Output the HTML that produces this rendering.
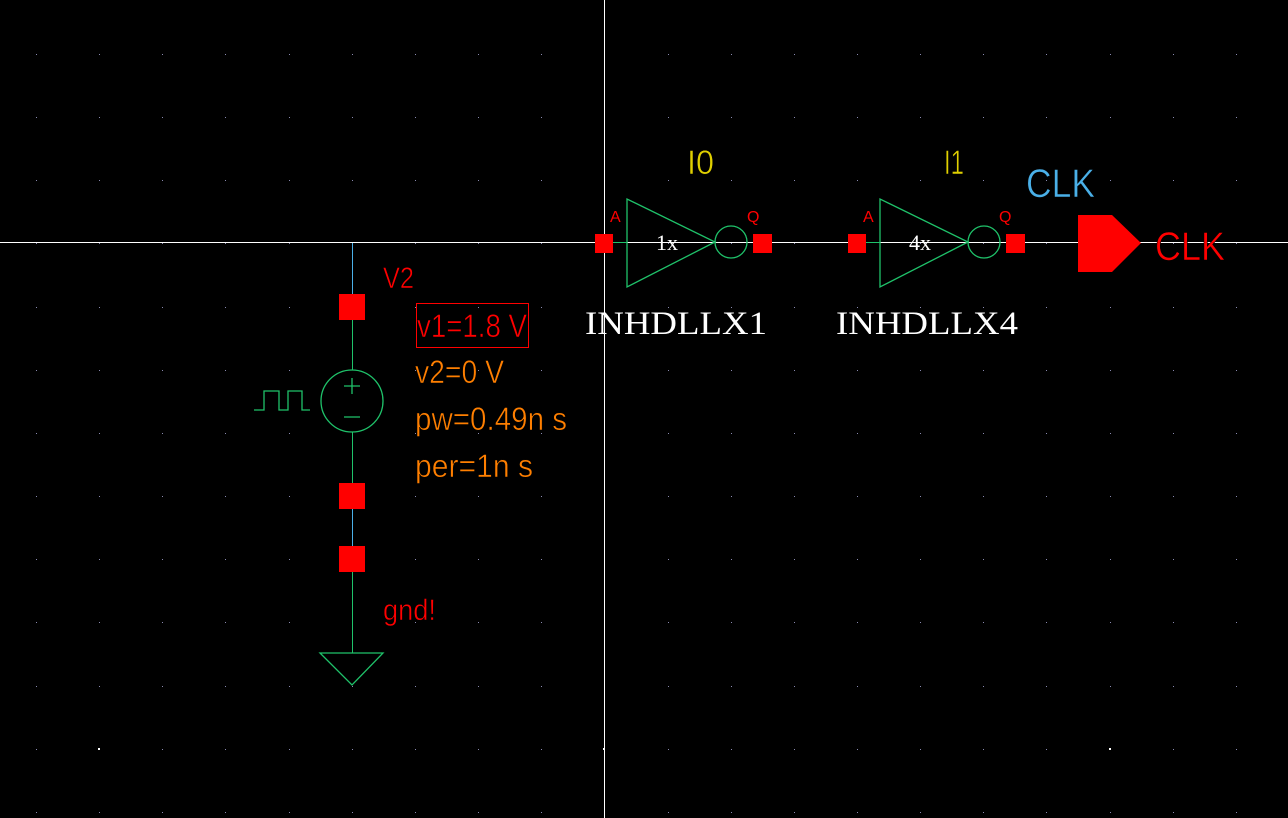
<!DOCTYPE html>
<html><head><meta charset="utf-8"><style>
html,body{margin:0;padding:0;background:#000;width:1288px;height:818px;overflow:hidden}
svg{display:block}
text{font-family:"Liberation Sans",sans-serif}
.thin{stroke:#000;stroke-width:0.6;paint-order:normal}
</style></head><body>
<svg id="s" width="1288" height="818" viewBox="0 0 1288 818">
<g id="grid"></g>
<!-- wires -->
<line x1="352" y1="242.5" x2="595" y2="242.5" stroke="#4ab0e8" stroke-width="1"/>
<line x1="772" y1="242.5" x2="848" y2="242.5" stroke="#4ab0e8" stroke-width="1"/>
<line x1="1024" y1="242.5" x2="1078" y2="242.5" stroke="#4ab0e8" stroke-width="1"/>
<line x1="352.5" y1="242" x2="352.5" y2="297" stroke="#4ab0e8"/>
<line x1="352.5" y1="297" x2="352.5" y2="496" stroke="#1fc26a"/>
<line x1="352.5" y1="496" x2="352.5" y2="559" stroke="#4ab0e8"/>
<line x1="352.5" y1="559" x2="352.5" y2="653" stroke="#1fc26a"/>
<!-- crosshair -->
<line x1="0" y1="242.5" x2="1288" y2="242.5" stroke="#fff" stroke-width="1"/>
<line x1="604.5" y1="0" x2="604.5" y2="818" stroke="#fff" stroke-width="1"/>
<!-- source -->
<rect x="339" y="294" width="26" height="26" fill="#f00"/>
<rect x="339" y="483" width="26" height="26" fill="#f00"/>
<rect x="339" y="546" width="26" height="26" fill="#f00"/>
<circle cx="352" cy="401" r="31" fill="#000" stroke="#1fc26a" stroke-width="1.3"/>
<path d="M344 386H360M352 378V394M344 417H360" stroke="#1fc26a" stroke-width="1.3" fill="none"/>
<path d="M254 410H264V391H279V410H288V391H302V410H310" stroke="#1fc26a" stroke-width="1.3" fill="none"/>
<path d="M320 653H383L352 685Z" fill="none" stroke="#1fc26a" stroke-width="1.3"/>
<text class="thin" x="383" y="288" fill="#f00" font-size="30" textLength="31" lengthAdjust="spacingAndGlyphs">V2</text>
<rect x="416.5" y="303.5" width="112" height="44" fill="none" stroke="#f00"/>
<text class="thin" x="417" y="337" fill="#f00" font-size="32" textLength="110" lengthAdjust="spacingAndGlyphs">v1=1.8 V</text>
<text class="thin" x="415" y="383" fill="#ff7f00" font-size="32" textLength="89" lengthAdjust="spacingAndGlyphs">v2=0 V</text>
<text class="thin" x="415" y="430" fill="#ff7f00" font-size="32" textLength="152" lengthAdjust="spacingAndGlyphs">pw=0.49n s</text>
<text class="thin" x="415" y="477" fill="#ff7f00" font-size="32" textLength="118" lengthAdjust="spacingAndGlyphs">per=1n s</text>
<text class="thin" x="383" y="620" fill="#f00" font-size="30" textLength="53" lengthAdjust="spacingAndGlyphs">gnd!</text>
<!-- inverter I0 -->
<g>
<line x1="613" y1="242.5" x2="627" y2="242.5" stroke="#1fc26a"/>
<path d="M627 199V287L715 242Z" fill="none" stroke="#1fc26a" stroke-width="1.3"/>
<circle cx="731" cy="242" r="16" fill="none" stroke="#1fc26a" stroke-width="1.3"/>
</g>
<rect x="595" y="234" width="18" height="19" fill="#f00"/>
<rect x="753" y="234" width="19" height="19" fill="#f00"/>
<text x="610" y="222" fill="#f00" font-size="16">A</text>
<text x="747" y="222" fill="#f00" font-size="16">Q</text>
<text x="656" y="250" fill="#fff" font-size="22" style="font-family:'Liberation Serif',serif">1x</text>
<text class="thin" x="687" y="174" fill="#e0d000" font-size="34" textLength="27" lengthAdjust="spacingAndGlyphs">I0</text>
<text x="585" y="334" fill="#fff" font-size="33" style="font-family:'Liberation Serif',serif" textLength="182" lengthAdjust="spacingAndGlyphs">INHDLLX1</text>
<!-- inverter I1 -->
<g>
<line x1="866" y1="242.5" x2="880" y2="242.5" stroke="#1fc26a"/>
<path d="M880 199V287L968 242Z" fill="none" stroke="#1fc26a" stroke-width="1.3"/>
<circle cx="984" cy="242" r="16" fill="none" stroke="#1fc26a" stroke-width="1.3"/>
</g>
<rect x="848" y="234" width="18" height="19" fill="#f00"/>
<rect x="1006" y="234" width="19" height="19" fill="#f00"/>
<text x="863" y="222" fill="#f00" font-size="16">A</text>
<text x="999" y="222" fill="#f00" font-size="16">Q</text>
<text x="909" y="250" fill="#fff" font-size="22" style="font-family:'Liberation Serif',serif">4x</text>
<text class="thin" x="944" y="174" fill="#e0d000" font-size="34" textLength="20" lengthAdjust="spacingAndGlyphs">I1</text>
<text x="836" y="334" fill="#fff" font-size="33" style="font-family:'Liberation Serif',serif" textLength="182" lengthAdjust="spacingAndGlyphs">INHDLLX4</text>
<!-- CLK pin -->
<text class="thin" x="1026" y="197" fill="#4ab0e8" font-size="40" textLength="69" lengthAdjust="spacingAndGlyphs">CLK</text>
<path d="M1078 215H1112L1141 243L1112 272H1078Z" fill="#f00"/>
<text class="thin" x="1155" y="260" fill="#f00" font-size="40" textLength="70" lengthAdjust="spacingAndGlyphs">CLK</text>
</svg>
<script>
var g=document.getElementById('grid');
for(var i=0;i<21;i++){for(var j=0;j<13;j++){
 var x=36+i*63.15,y=54+j*63.15;
 var big=(j===11&&(i%8===1));
 var r=document.createElementNS('http://www.w3.org/2000/svg','rect');
 r.setAttribute('x',Math.round(x)-(big?1:0));r.setAttribute('y',Math.round(y)-(big?1:0));
 r.setAttribute('width',big?2:1);r.setAttribute('height',big?2:1);
 r.setAttribute('fill',big?'#fff':'#8a8ab0');
 
 
 g.appendChild(r);
}}
</script>
</body></html>
